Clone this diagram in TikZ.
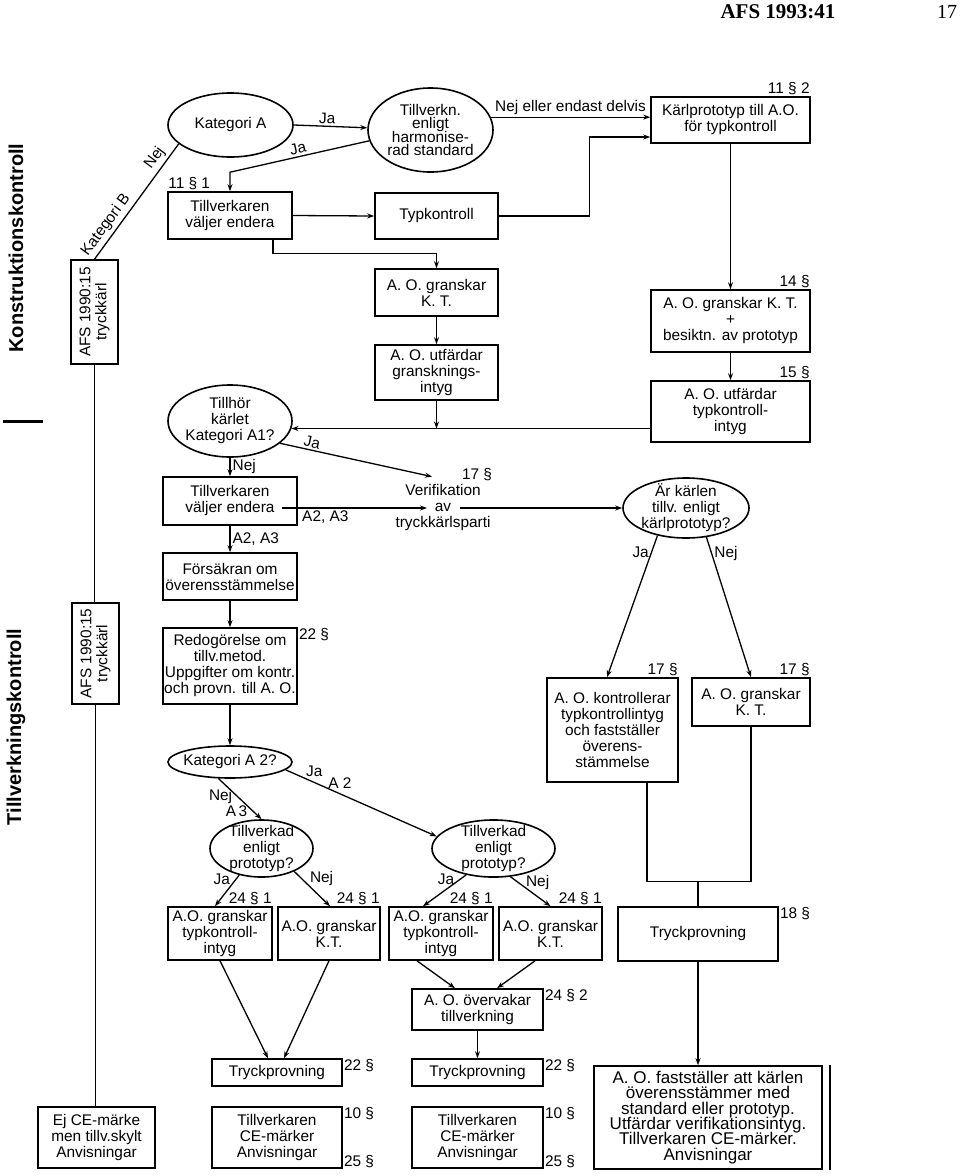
\documentclass[tikz,border=0pt]{standalone}
\usepackage{fontspec}
\setmainfont{Liberation Sans}
\newfontfamily\headfont{Liberation Serif}
\usetikzlibrary{arrows.meta,positioning,shapes.geometric}
\newcommand{\boxfont}{\fontsize{15.4}{16}\selectfont}
\newcommand{\tightfont}{\fontsize{15.4}{13.6}\selectfont\lineskiplimit=-20pt}
\newcommand{\widefont}{\fontsize{17}{15.3}\selectfont\lineskiplimit=-20pt}
\tikzset{
  box/.style={draw, line width=1.6pt, inner xsep=1pt, inner ysep=1pt, align=center, font=\boxfont},
  ell/.style={draw, ellipse, line width=1.6pt, inner sep=-3pt, align=center, font=\boxfont},
  arr/.style={line width=1.3pt, -{Stealth[length=7pt,width=5pt]}},
  conn/.style={line width=1.3pt},
  sec/.style={font=\boxfont, inner sep=1pt},
  lbl/.style={font=\boxfont, inner sep=2pt, align=center},
  side/.style={font=\fontsize{20}{22}\selectfont\bfseries, rotate=90},
}
\begin{document}
\begin{tikzpicture}[x=1pt, y=-1pt]
  \useasboundingbox (0,0) rectangle (960,1176);

  \node[font=\headfont\fontsize{21}{22}\selectfont\bfseries] (hdr) at (778,12) {AFS 1993:41};
  \node[font=\headfont\fontsize{20}{22}\selectfont] (pg) at (947,12) {17};

  \node[side] (konstr) at (16,248) {Konstruktionskontroll};
  \node[side] (tillvk) at (16,727) {Tillverkningskontroll};
  \draw[line width=3pt] (3,421) -- (43,421);

  \node[box, rotate=90, minimum width=104, minimum height=47] (afsA) at (94.5,312) {AFS 1990:15\\tryckkärl};
  \node[box, rotate=90, minimum width=101, minimum height=47] (afsB) at (95.5,653.5) {AFS 1990:15\\tryckkärl};
  \node[box, minimum width=117, minimum height=61] (ejce) at (96.5,1137.5) {Ej CE-märke\\men tillv.skylt\\Anvisningar};

  \node[ell, minimum width=125, minimum height=64] (katA) at (230.5,125) {Kategori A};
  \node[ell, font=\tightfont, minimum width=125, minimum height=84] (harm) at (430.5,130) {Tillverkn.\\enligt\\harmonise-\\rad standard};
  \node[box, minimum width=159, minimum height=46, label={[sec, anchor=south east]north east:11 § 2}] (karlp) at (730.5,120) {Kärlprototyp till A.O.\\för typkontroll};
  \node[box, minimum width=124, minimum height=47, label={[sec, anchor=south west]north west:11 § 1}] (tvA) at (230,215.5) {Tillverkaren\\väljer endera};
  \node[box, minimum width=123, minimum height=46] (typk) at (436.5,216) {Typkontroll};
  \node[box, minimum width=123, minimum height=47] (aogA) at (436.5,292.5) {A. O. granskar\\K. T.};
  \node[box, minimum width=123, minimum height=55] (aouA) at (436.5,372.5) {A. O. utfärdar\\gransknings-\\intyg};
  \node[box, minimum width=159, minimum height=62, label={[sec, anchor=south east]north east:14 §}] (aogB) at (730.5,321) {A. O. granskar K. T.\\+\\besiktn. av prototyp};
  \node[box, minimum width=159, minimum height=61, label={[sec, anchor=south east]north east:15 §}] (aouB) at (730.5,411.5) {A. O. utfärdar\\typkontroll-\\intyg};

  \node[ell, minimum width=124, minimum height=72] (tillhor) at (230,421) {Tillhör\\kärlet\\Kategori A1?};
  \node[box, minimum width=134, minimum height=48] (tvB) at (230,501) {Tillverkaren\\väljer endera};
  \node[box, minimum width=134, minimum height=47] (forsak) at (230,576.5) {Försäkran om\\överensstämmelse};
  \node[box, minimum width=134, minimum height=76, label={[sec, anchor=north west]north east:22 §}] (redog) at (230,666) {Redogörelse om\\tillv.metod.\\Uppgifter om kontr.\\och provn. till A. O.};
  \node[lbl] (verif) at (443,508) {Verifikation\\av\\tryckkärlsparti};
  \node[sec] (verif17) at (477,475) {17 §};
  \node[ell, minimum width=126, minimum height=60] (arkarl) at (686,508) {Är kärlen\\tillv. enligt\\kärlprototyp?};
  \node[box, minimum width=131, minimum height=104, label={[sec, anchor=south east]north east:17 §}] (aok) at (612.5,730) {A. O. kontrollerar\\typkontrollintyg\\och fastställer\\överens-\\stämmelse};
  \node[box, minimum width=118, minimum height=48, label={[sec, anchor=south east]north east:17 §}] (aogC) at (751,702) {A. O. granskar\\K. T.};

  \node[ell, minimum width=124, minimum height=32] (katA2) at (230,762) {Kategori A 2?};
  \node[ell, minimum width=103, minimum height=57] (tvkA) at (261.5,848.5) {Tillverkad\\enligt\\prototyp?};
  \node[ell, minimum width=123, minimum height=57] (tvkB) at (493.5,848.5) {Tillverkad\\enligt\\prototyp?};
  \node[box, minimum width=104, minimum height=53, label={[sec, anchor=south east]north east:24 § 1}] (b1) at (220,933.5) {A.O. granskar\\typkontroll-\\intyg};
  \node[box, minimum width=102, minimum height=53, label={[sec, anchor=south east]north east:24 § 1}] (b2) at (329,933.5) {A.O. granskar\\K.T.};
  \node[box, minimum width=104, minimum height=53, label={[sec, anchor=south east]north east:24 § 1}] (b3) at (441,933.5) {A.O. granskar\\typkontroll-\\intyg};
  \node[box, minimum width=103, minimum height=53, label={[sec, anchor=south east]north east:24 § 1}] (b4) at (550.5,933.5) {A.O. granskar\\K.T.};
  \node[box, minimum width=160, minimum height=54, label={[sec, anchor=north west]north east:18 §}] (tryR) at (698,934) {Tryckprovning};
  \node[box, minimum width=131, minimum height=41, label={[sec, anchor=north west]north east:24 § 2}] (overv) at (477.5,1009.5) {A. O. övervakar\\tillverkning};
  \node[box, minimum width=130, minimum height=27, label={[sec, anchor=north west]north east:22 §}] (tryL) at (277,1072.5) {Tryckprovning};
  \node[box, minimum width=131, minimum height=27, label={[sec, anchor=north west]north east:22 §}] (tryM) at (477.5,1072.5) {Tryckprovning};
  \node[box, minimum width=130, minimum height=61, label={[sec, anchor=north west]north east:10 §}, label={[sec, anchor=south west]south east:25 §}] (ceL) at (277,1137.5) {Tillverkaren\\CE-märker\\Anvisningar};
  \node[box, minimum width=131, minimum height=61, label={[sec, anchor=north west]north east:10 §}, label={[sec, anchor=south west]south east:25 §}] (ceM) at (477.5,1137.5) {Tillverkaren\\CE-märker\\Anvisningar};
  \node[box, font=\widefont, minimum width=228, minimum height=103] (fast) at (708,1117.5) {A. O. fastställer att kärlen\\överensstämmer med\\standard eller prototyp.\\Utfärdar verifikationsintyg.\\Tillverkaren CE-märker.\\Anvisningar};
  \draw[line width=1.6pt] ([xshift=7pt]fast.north east) -- ([xshift=7pt]fast.south east);

  \draw[conn] (katA.200) -- node[pos=0.18, sloped, above=1pt, lbl]{Nej} node[pos=0.76, sloped, above=1pt, lbl]{Kategori B} (afsA.east);
  \draw[conn] (afsA.west) -- (afsA.west |- afsB.east);
  \draw[conn] (afsB.west) -- (afsB.west |- ejce.north);
  \draw[arr] (katA.east) -- node[pos=0.45, sloped, above, lbl]{Ja} (harm.178);
  \draw[arr] (harm.190) -- node[pos=0.5, sloped, above, lbl]{Ja} ([yshift=19pt]tvA.north) -- (tvA.north);
  \draw[arr] (harm.12) -- node[midway, above, lbl]{Nej eller endast delvis} (harm.12 -| karlp.west);
  \draw[arr] (tvA.east) -- (typk.west);
  \draw[arr] (typk.east) -- ++(91,0) |- ([yshift=-17pt]karlp.west);
  \draw[arr] ([xshift=43pt]tvA.south) -- ++(0,14) -| (aogA.north);
  \draw[arr] (aogA) -- (aouA);
  \draw[arr] (karlp) -- (aogB);
  \draw[arr] (aogB) -- (aouB);
  \draw[arr] (tillhor.-7 -| aouB.west) -- (tillhor.-7);
  \draw[arr] (aouA.south) -- (aouA.south |- tillhor.-7);

  \draw[arr] (tillhor.-24) -- node[pos=0.2, sloped, above, lbl]{Ja} ([xshift=-11pt, yshift=6pt]verif.north);
  \draw[arr] (tillhor) -- node[midway, right, lbl]{Nej} (tvB);
  \draw[arr] ([xshift=-16pt]verif.center -| tvB.east) -- node[pos=0.3, below, lbl]{A2, A3} ([xshift=-16pt]verif.center);
  \draw[arr] ([xshift=17pt]verif.center) -- (arkarl.west);
  \draw[arr] (tvB) -- node[midway, right, lbl]{A2, A3} (forsak);
  \draw[arr] (forsak) -- (redog);
  \draw[arr] (redog) -- (katA2);

  \draw[arr] (arkarl.224) -- node[pos=0.12, left, lbl]{Ja} ([xshift=-5.5pt]aok.north);
  \draw[arr] (arkarl.-55) -- node[pos=0.12, right, lbl]{Nej} (aogC.north);
  \draw[conn] ([xshift=34.5pt]aok.south) |- ([yshift=25pt]tryR.north) -| (aogC.south);
  \draw[conn] ([yshift=25pt]tryR.north) -- (tryR.north);
  \draw[arr] (tryR.south) -- (tryR.south |- fast.north);

  \draw[arr] (katA2.235) -- node[pos=0.45, left=3pt, lbl]{Nej} node[pos=0.8, left=3pt, lbl]{A\,3} (tvkA.north);
  \draw[arr] (katA2.-8) -- node[pos=0.19, above=3pt, lbl]{Ja} node[pos=0.36, above=3pt, lbl]{A 2} (tvkB.168);
  \draw[arr] (tvkA.230) -- node[pos=0.15, left=3pt, lbl]{Ja} ([xshift=-5pt]b1.north);
  \draw[arr] (tvkA.-35) -- node[pos=0.2, right=6pt, lbl]{Nej} ([xshift=1pt]b2.north);
  \draw[arr] (tvkB.224) -- node[pos=0.15, left=3pt, lbl]{Ja} ([xshift=-18pt]b3.north);
  \draw[arr] (tvkB.-59) -- node[pos=0.2, right=5pt, lbl]{Nej} (b4.north);
  \draw[arr] (b1.south) -- ([xshift=-9pt]tryL.north);
  \draw[arr] (b2.south) -- ([xshift=7pt]tryL.north);
  \draw[arr] ([xshift=-24pt]b3.south) -- ([xshift=-22.5pt]overv.north);
  \draw[arr] ([xshift=-15.5pt]b4.south) -- ([xshift=19.5pt]overv.north);
  \draw[arr] (overv) -- (tryM);
\end{tikzpicture}
\end{document}
